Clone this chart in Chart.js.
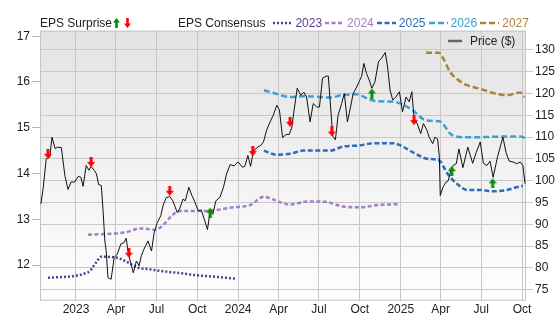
<!DOCTYPE html>
<html>
<head>
<meta charset="utf-8">
<script src="https://cdn.jsdelivr.net/npm/chart.js@4.4.1/dist/chart.umd.min.js"></script>
<style>
body { margin: 0; background: #fff; font-family: "Liberation Sans", Arial, sans-serif; }
#wrap { position: relative; width: 556px; height: 315px; }
#chart { position: absolute; left: 0; top: 0; }
.lg { position: absolute; font-size: 12px; line-height: 14px; color: #222; white-space: nowrap; }
#cons { display: flex; align-items: center; }
#cons .it { display: flex; align-items: center; margin-left: 3px; }
#cons svg { margin-right: 3px; }
</style>
</head>
<body>
<div id="wrap">
   <canvas id="chart" width="556" height="315"></canvas>
   <div class="lg" style="left:40px;top:16px">EPS Surprise</div>
   <svg class="lg" style="left:113px;top:18px" width="20" height="10">
      <polygon points="0,4.5 3.5,0 7,4.5 4.8,4.5 4.8,10 2.2,10 2.2,4.5" fill="#0a8a0a"/>
      <polygon points="11,5.5 14.5,10 18,5.5 15.8,5.5 15.8,0 13.2,0 13.2,5.5" fill="#ff0000"/>
   </svg>
   <div class="lg" id="cons" style="left:178px;top:16px"><span style="margin-right:5px">EPS Consensus</span></div>
   <div class="lg" style="left:448px;top:34px;display:flex;align-items:center">
      <svg width="14" height="4" style="margin-right:8px"><line x1="0" y1="2" x2="14" y2="2" stroke="#666" stroke-width="2.5"/></svg>Price ($)
   </div>
</div>
<script>
// x values are days counted from 2023-01-01
const tickDays = [0, 90, 181, 273, 365, 456, 547, 639, 731, 821, 912, 1004];
const tickLabels = ['2023', 'Apr', 'Jul', 'Oct', '2024', 'Apr', 'Jul', 'Oct', '2025', 'Apr', 'Jul', 'Oct'];
const epsTicks = [12, 13, 14, 15, 16, 17];
const priceTicks = [75, 80, 85, 90, 95, 100, 105, 110, 115, 120, 125, 130];

const priceDays = [-79,-74,-67,-59,-54,-47,-41,-33,-25,-18,-11,-3,5,11,16,23,29,34,41,46,51,57,61,65,68,72,79,86,93,101,
   108,113,117,123,129,136,142,147,153,162,170,176,183,191,196,203,211,218,228,233,241,246,254,261,267,275,282,290,296,302,
   308,315,324,332,339,347,356,365,375,380,387,393,399,407,416,422,429,437,444,452,458,465,473,480,486,491,498,506,513,519,
   527,534,542,548,555,563,568,572,578,584,590,598,604,611,618,624,632,638,643,648,654,660,666,673,681,688,696,701,707,713,
   720,728,735,743,750,756,761,768,776,782,790,795,803,808,814,818,820,826,833,838,844,849,856,862,871,882,893,901,910,917,
   925,932,939,949,961,968,975,984,992,1000,1006,1011];
const priceVals = [94.7,98.2,105.0,105.4,110.0,107.4,107.7,107.6,101.2,98.0,99.7,99.7,101.0,100.8,98.7,103.5,102.4,103.3,102.4,101.6,99.1,98.9,93.1,86.2,83.9,77.8,77.4,82.4,83.2,85.5,
   85.8,86.8,83.9,81.2,78.9,81.6,80.5,82.8,84.3,86.2,83.9,88.1,90.4,92.0,94.3,96.1,96.4,95.4,92.7,93.5,95.8,95.4,98.5,96.6,95.3,93.1,93.3,90.8,88.8,93.1,
   92.3,95.4,96.2,98.5,101.6,103.7,103.4,104.3,103.1,103.3,105.8,103.3,106.6,107.6,108.1,108.9,111.6,113.5,115.0,117.3,116.2,109.9,110.6,110.6,112.3,116.2,121.2,119.6,120.3,119.2,
   113.5,117.7,116.9,116.9,123.5,124.0,124.0,118.5,110.2,109.4,115.0,117.7,120.0,113.5,116.9,120.0,121.5,122.9,123.9,126.9,124.6,123.1,121.2,122.7,127.3,128.1,129.4,126.5,120.8,118.5,
   119.2,120.4,115.8,119.2,118.1,120.4,114.3,113.1,110.8,113.1,111.6,110.0,108.5,110.0,109.6,105.4,96.6,98.5,99.7,100.0,102.4,103.5,103.9,107.3,103.0,107.7,104.0,106.5,108.9,104.0,
   103.5,104.5,100.8,105.5,110.0,106.5,104.5,104.3,103.9,104.3,103.5,99.3];

const eps2023Days = [-63, 27, 45, 56, 86, 110, 140, 162, 207, 237, 267, 293, 362];
const eps2023Vals = [11.72, 11.84, 12.05, 12.18, 12.17, 12.09, 11.94, 11.91, 11.85, 11.82, 11.78, 11.76, 11.7];
const eps2024Days = [27, 114, 144, 178, 234, 290, 354, 392, 423, 452, 480, 525, 561, 601, 639, 680, 729];
const eps2024Vals = [12.66, 12.72, 12.8, 12.77, 13.18, 13.18, 13.26, 13.31, 13.49, 13.4, 13.32, 13.39, 13.38, 13.28, 13.26, 13.31, 13.33];
const eps2025Days = [423, 452, 482, 512, 572, 602, 636, 671, 716, 731, 761, 791, 817, 836, 858, 881, 910, 940, 970, 992, 1006];
const eps2025Vals = [14.5, 14.41, 14.43, 14.5, 14.5, 14.59, 14.61, 14.66, 14.66, 14.61, 14.45, 14.32, 14.29, 14.0, 13.77, 13.64, 13.64, 13.61, 13.64, 13.7, 13.73];
const eps2026Days = [423, 452, 482, 512, 572, 602, 632, 660, 676, 720, 735, 758, 788, 818, 848, 885, 935, 975, 1002, 1012];
const eps2026Vals = [15.82, 15.74, 15.67, 15.69, 15.66, 15.72, 15.73, 15.62, 15.58, 15.56, 15.51, 15.38, 15.16, 15.14, 14.83, 14.79, 14.8, 14.81, 14.81, 14.76];
const eps2027Days = [788, 817, 827, 842, 857, 880, 910, 947, 970, 1000, 1009];
const eps2027Vals = [16.64, 16.64, 16.51, 16.22, 16.07, 15.93, 15.85, 15.74, 15.71, 15.77, 15.67];

const surpriseDays = [-63, 34, 119, 211, 302, 398, 482, 576, 666, 761, 846, 938];
const surpriseVals = [106.2, 104.3, 83.5, 97.7, 92.7, 106.8, 113.5, 111.3, 120.0, 113.9, 102.2, 99.4];
const surpriseBeat = [false, false, false, false, true, false, false, false, true, false, true, true];

const consensus = [
   { label: '2023', days: eps2023Days, vals: eps2023Vals, color: '#5b3a8e', dash: [2, 2] },
   { label: '2024', days: eps2024Days, vals: eps2024Vals, color: '#a47fc5', dash: [4, 2.5] },
   { label: '2025', days: eps2025Days, vals: eps2025Vals, color: '#2d6cb8', dash: [5, 2.5] },
   { label: '2026', days: eps2026Days, vals: eps2026Vals, color: '#3f9fd0', dash: [6, 3] },
   { label: '2027', days: eps2027Days, vals: eps2027Vals, color: '#ad823c', dash: [6, 3] }
];

function pts(days, vals) {
   return days.map((d, i) => ({ x: d, y: vals[i] }));
}

function arrowImg(color, up) {
   const c = document.createElement('canvas');
   c.width = 8; c.height = 10;
   const g = c.getContext('2d');
   g.fillStyle = color;
   g.beginPath();
   if (up) {
      g.moveTo(0, 5); g.lineTo(4, 0); g.lineTo(8, 5);
      g.closePath(); g.fill();
      g.fillRect(2.5, 5, 3, 5);
   } else {
      g.moveTo(0, 5); g.lineTo(4, 10); g.lineTo(8, 5);
      g.closePath(); g.fill();
      g.fillRect(2.5, 0, 3, 5);
   }
   return c;
}
const upArrow = arrowImg('#0a8a0a', true);
const downArrow = arrowImg('#ff0000', false);

// legend for consensus lines
const cons = document.getElementById('cons');
consensus.forEach(s => {
   const it = document.createElement('span');
   it.className = 'it';
   it.style.color = s.color;
   it.innerHTML = `<svg width="19" height="4"><line x1="0" y1="2" x2="19" y2="2" stroke="${s.color}" stroke-width="2.5" stroke-dasharray="${s.dash.join(',')}"/></svg>${s.label}`;
   cons.appendChild(it);
});

const bgPlugin = {
   id: 'bg',
   beforeDraw(chart) {
      const { ctx, chartArea: a } = chart;
      const g = ctx.createLinearGradient(0, a.top, 0, a.bottom);
      g.addColorStop(0, '#e3e3e3');
      g.addColorStop(1, '#ffffff');
      ctx.save();
      ctx.fillStyle = g;
      ctx.fillRect(a.left, a.top, a.right - a.left, a.bottom - a.top);
      ctx.restore();
   },
   beforeDatasetsDraw(chart) {
      const { ctx, chartArea: a } = chart;
      ctx.save();
      ctx.strokeStyle = '#c4c4c4';
      ctx.lineWidth = 1;
      ctx.strokeRect(a.left + 0.5, a.top + 0.5, a.right - a.left - 1, a.bottom - a.top - 1);
      ctx.restore();
   }
};

const datasets = [{
   label: 'EPS Surprise',
   data: pts(surpriseDays, surpriseVals),
   yAxisID: 'y1',
   showLine: false,
   pointStyle: c => surpriseBeat[c.dataIndex] ? upArrow : downArrow,
   pointRadius: 5,
   order: 0
}, {
   label: 'Price ($)',
   data: pts(priceDays, priceVals),
   yAxisID: 'y1',
   borderColor: '#111',
   borderWidth: 1,
   pointRadius: 0,
   tension: 0,
   order: 1
}];
consensus.forEach(s => {
   datasets.push({
      label: s.label,
      data: pts(s.days, s.vals),
      yAxisID: 'y',
      borderColor: s.color,
      borderWidth: 2.5,
      borderDash: s.dash,
      pointRadius: 0,
      cubicInterpolationMode: 'monotone',
      order: 2
   });
});

new Chart(document.getElementById('chart'), {
   type: 'line',
   data: { datasets: datasets },
   plugins: [bgPlugin],
   options: {
      responsive: false,
      animation: false,
      layout: { padding: { top: 30.7, left: 0, right: 0, bottom: 0 } },
      plugins: { legend: { display: false }, tooltip: { enabled: false } },
      scales: {
         x: {
            type: 'linear',
            min: -81,
            max: 1013,
            afterBuildTicks: s => { s.ticks = tickDays.map(v => ({ value: v })); },
            afterFit: s => { s.height = 14.3; },
            ticks: {
               callback: (v, i) => tickLabels[i],
               color: '#222',
               font: { size: 12, family: '"Liberation Sans", Arial, sans-serif' },
               padding: 2,
               maxRotation: 0,
               autoSkip: false
            },
            grid: { color: '#c8c8c8', drawTicks: false },
            border: { display: false }
         },
         y: {
            position: 'left',
            min: 11.22,
            max: 17.12,
            afterBuildTicks: s => { s.ticks = epsTicks.map(v => ({ value: v })); },
            afterFit: s => { s.width = 40; },
            ticks: {
               color: '#222',
               font: { size: 12, family: '"Liberation Sans", Arial, sans-serif' },
               padding: 2
            },
            grid: { drawOnChartArea: false, tickLength: 8, color: '#b8b8b8' },
            border: { display: false }
         },
         y1: {
            position: 'right',
            min: 72.5,
            max: 134.4,
            afterBuildTicks: s => { s.ticks = priceTicks.map(v => ({ value: v })); },
            afterFit: s => { s.width = 30; },
            ticks: {
               color: '#222',
               font: { size: 12, family: '"Liberation Sans", Arial, sans-serif' },
               padding: 2
            },
            grid: { color: '#c8c8c8', tickLength: 7 },
            border: { display: false }
         }
      }
   }
});
</script>
</body>
</html>
